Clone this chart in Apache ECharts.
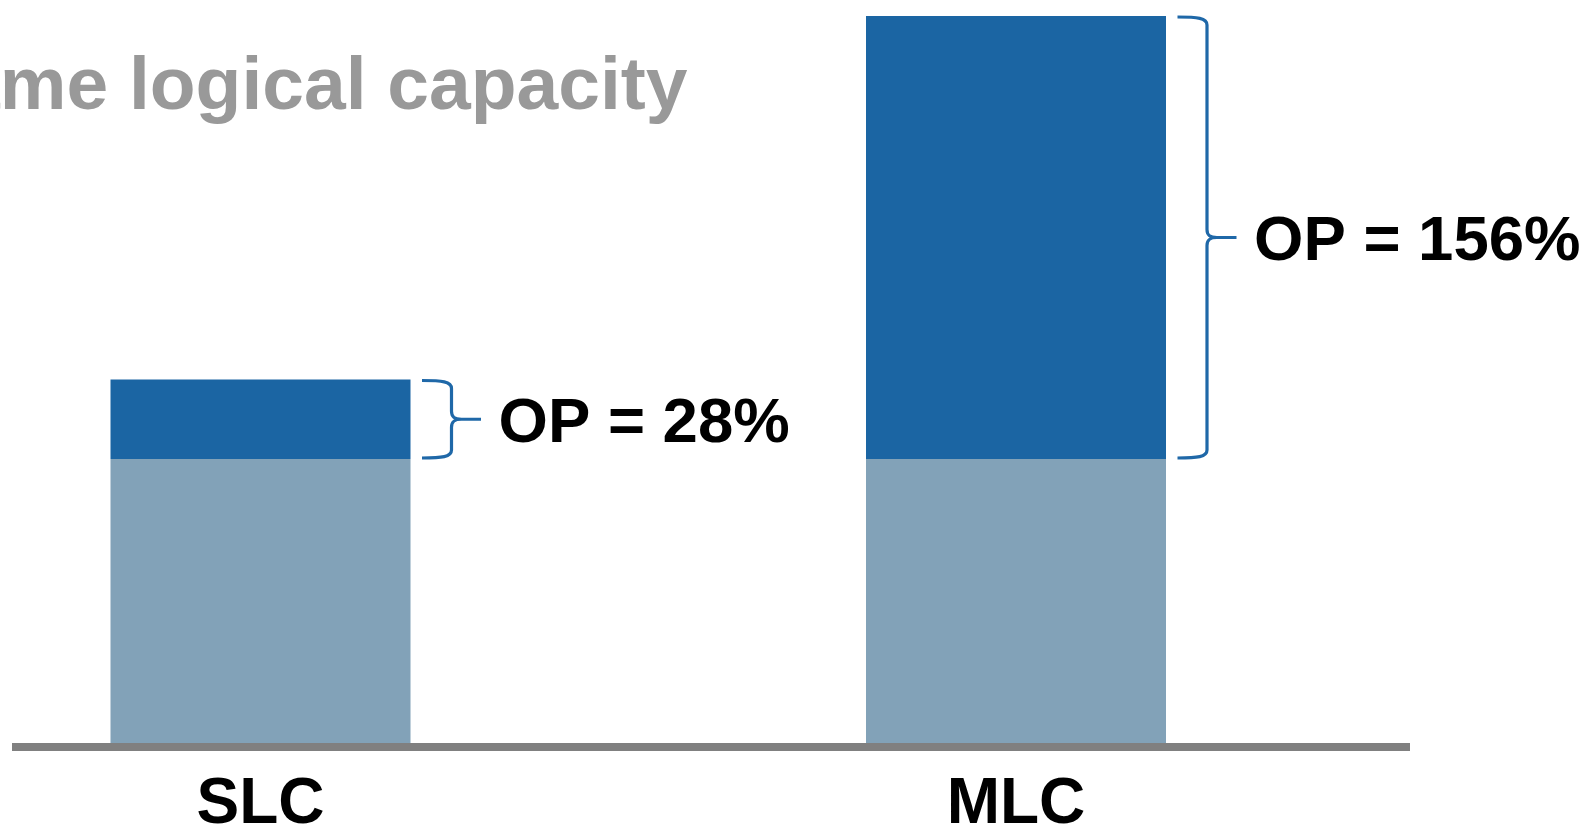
<!DOCTYPE html>
<html>
<head>
<meta charset="utf-8">
<script src="https://cdn.jsdelivr.net/npm/echarts@6/dist/echarts.min.js"></script>
<style>
  html, body { margin: 0; padding: 0; background: #ffffff; }
  #chart { width: 1589px; height: 829px; }
</style>
</head>
<body>
<div id="chart"></div>
<script>
// Flash types and their capacity split (logical capacity = 100 units)
const categories = ['SLC', 'MLC'];
const logicalCapacity = [100, 100];
const overProvisioning = [28, 156];   // OP in % of logical capacity

const FONT = '"Liberation Sans", Arial, Helvetica, sans-serif';
const BAR_WIDTH = 300;

const braceData = categories.map((c, i) => [
  i,
  logicalCapacity[i],
  logicalCapacity[i] + overProvisioning[i],
  overProvisioning[i]
]);

// Curly brace to the right of each bar spanning the OP segment, plus its label
function renderBrace(params, api) {
  const idx = api.value(0);
  const top = api.coord([idx, api.value(2)]);
  const bot = api.coord([idx, api.value(1)]);
  const R = top[0] + BAR_WIDTH / 2;
  const yt = top[1] + 1, yb = bot[1] - 1;
  const ym = (yt + yb) / 2;
  const x0 = R + 11.5, xv = R + 41, xt = R + 70.5, r = 8;
  const d =
    `M${x0},${yt} C${x0 + 20},${yt} ${xv},${yt + 1} ${xv},${yt + r} ` +
    `L${xv},${ym - r} C${xv},${ym - 2} ${xv + 3},${ym} ${xv + 10},${ym} L${xt},${ym} ` +
    `M${xv + 10},${ym} C${xv + 3},${ym} ${xv},${ym + 2} ${xv},${ym + r} ` +
    `L${xv},${yb - r} C${xv},${yb - 1} ${x0 + 20},${yb} ${x0},${yb}`;
  return {
    type: 'group',
    children: [
      {
        type: 'path',
        shape: { pathData: d },
        style: { stroke: '#1F68A8', lineWidth: 3.2, fill: 'none' }
      },
      {
        type: 'text',
        x: R + 88,
        y: ym + 5,
        style: {
          text: 'OP = ' + api.value(3) + '%',
          fontFamily: FONT,
          fontWeight: 'bold',
          fontSize: 63.5,
          fill: '#000000',
          verticalAlign: 'middle',
          align: 'left'
        }
      }
    ]
  };
}

const chart = echarts.init(document.getElementById('chart'), null, { renderer: 'canvas' });

chart.setOption({
  animation: false,
  backgroundColor: '#ffffff',
  // categories sit on the grid edges; bars overhang them
  grid: {
    left: 260.5, right: 573, top: 16, bottom: 86,
    containLabel: false,
    outerBoundsMode: 'none'
  },
  xAxis: {
    type: 'category',
    data: categories,
    boundaryGap: false,
    axisLine: { show: false },
    axisTick: { show: false },
    splitLine: { show: false },
    axisLabel: {
      margin: 62,
      verticalAlign: 'middle',
      fontFamily: FONT,
      fontWeight: 'bold',
      fontSize: 64,
      color: '#000000'
    }
  },
  yAxis: {
    type: 'value',
    min: 0,
    max: 256,
    show: false,
    splitLine: { show: false }
  },
  series: [
    {
      name: 'Logical capacity',
      type: 'bar',
      stack: 'capacity',
      barWidth: BAR_WIDTH,
      clip: false,
      data: logicalCapacity,
      itemStyle: { color: '#82A2B8' }
    },
    {
      name: 'Over-provisioning',
      type: 'bar',
      stack: 'capacity',
      barWidth: BAR_WIDTH,
      clip: false,
      data: overProvisioning,
      itemStyle: { color: '#1B65A3' }
    },
    {
      name: 'OP brace',
      type: 'custom',
      renderItem: renderBrace,
      clip: false,
      data: braceData,
      z: 5
    }
  ]
});

// Baseline rule and the heading line
const y0 = chart.convertToPixel({ yAxisIndex: 0 }, 0);
chart.setOption({
  graphic: [
    {
      type: 'rect',
      shape: { x: 12, y: y0, width: 1398, height: 8 },
      style: { fill: '#808080' },
      silent: true
    },
    {
      type: 'text',
      x: -92,
      y: 88,
      style: {
        text: 'Same logical capacity',
        fontFamily: FONT,
        fontWeight: 'bold',
        fontSize: 75,
        fill: '#999999',
        verticalAlign: 'middle',
        align: 'left'
      },
      silent: true
    }
  ]
});
</script>
</body>
</html>
